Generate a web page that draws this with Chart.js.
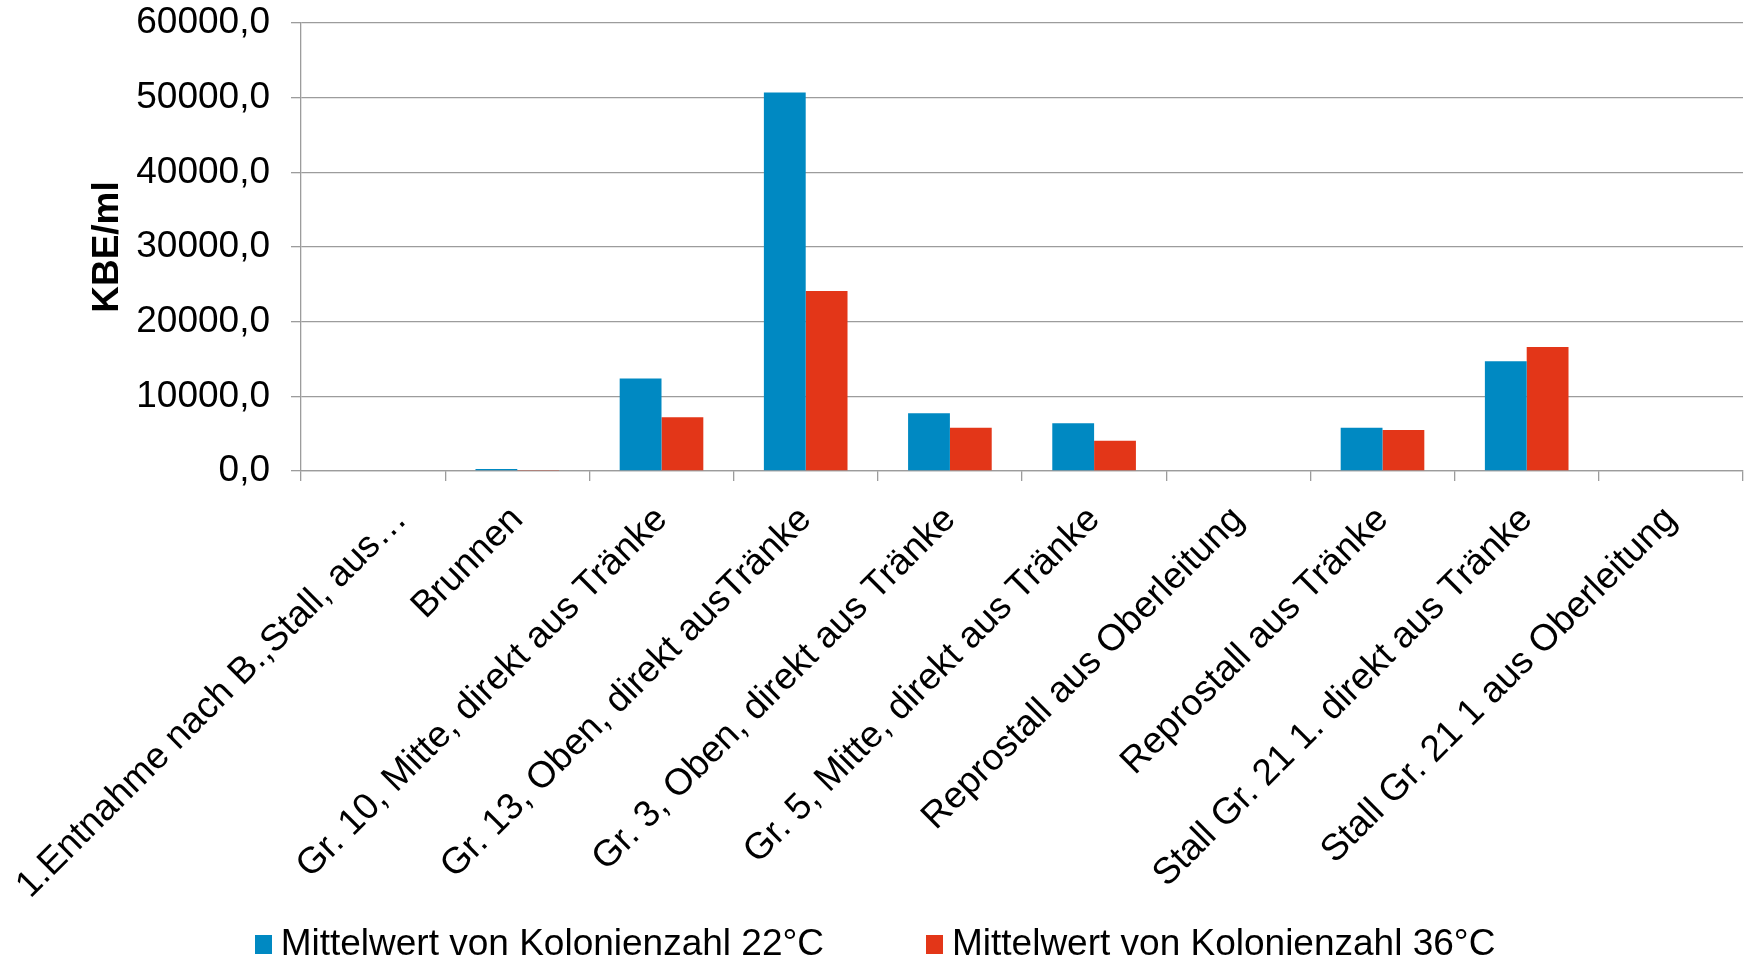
<!DOCTYPE html>
<html>
<head>
<meta charset="utf-8">
<script src="https://cdn.jsdelivr.net/npm/chart.js@4/dist/chart.umd.min.js"></script>
<style>
  body { margin: 0; background: #fff; }
  #wrap { position: relative; width: 1750px; height: 963px; }
  #legend {
    position: absolute; left: 0; top: 924px; width: 1750px; height: 37px;
    display: flex; justify-content: center; align-items: center;
    font-family: "Liberation Sans", Arial, sans-serif; font-size: 37px; line-height: 37px; color: #000;
  }
  .item { display: flex; align-items: center; }
  .box { width: 17px; height: 19px; margin-right: 9px; margin-top: 3px; }
</style>
</head>
<body>
<div id="wrap">
  <canvas id="chart" width="1750" height="963"></canvas>
  <div id="legend"></div>
</div>
<script>
// categories on the x axis
const categories = [
  "1.Entnahme nach B.,Stall, aus…",
  "Brunnen",
  "Gr. 10, Mitte, direkt aus Tränke",
  "Gr. 13, Oben, direkt ausTränke",
  "Gr. 3, Oben, direkt aus Tränke",
  "Gr. 5, Mitte, direkt aus Tränke",
  "Reprostall aus Oberleitung",
  "Reprostall aus Tränke",
  "Stall Gr. 21 1. direkt aus Tränke",
  "Stall Gr. 21 1 aus Oberleitung"
];

// Mittelwert 22°C
const kolonien22 = [0, 280, 12400, 50700, 7750, 6400, 0, 5800, 14700, 0];
// Mittelwert 36°C
const kolonien36 = [0, 120, 7200, 24100, 5800, 4050, 0, 5500, 16600, 0];

// y tick labels
const yTickLabels = ["0,0", "10000,0", "20000,0", "30000,0", "40000,0", "50000,0", "60000,0"];

const seriesNames = ["Mittelwert von Kolonienzahl 22°C", "Mittelwert von Kolonienzahl 36°C"];
const barColors = ["#0089C2", "#E33618"];

const gridGrey = "#9c9c9c";
const font = { family: "'Liberation Sans', Arial, sans-serif", size: 37 };

// the first (long) label is nudged right so it stays inside the picture
const shiftFirstLabel = {
  id: "shiftFirstLabel",
  beforeDraw(chart) {
    const items = chart.scales.x.getLabelItems();
    if (items.length && !items._shifted) {
      items[0].options.translation[0] += 28;
      items._shifted = true;
    }
  },
};

const chart = new Chart("chart", {
  type: "bar",
  data: {
    labels: categories,
    datasets: [
      {
        label: seriesNames[0],
        data: kolonien22,
        backgroundColor: barColors[0],
        categoryPercentage: 0.58,
        barPercentage: 1.0,
      },
      {
        label: seriesNames[1],
        data: kolonien36,
        backgroundColor: barColors[1],
        categoryPercentage: 0.58,
        barPercentage: 1.0,
      },
    ],
  },
  options: {
    responsive: false,
    animation: false,
    layout: { padding: { top: 0, right: 7, left: 0, bottom: 0 } },
    plugins: {
      legend: { display: false },
      tooltip: { enabled: false },
    },
    scales: {
      x: {
        offset: true,
        grid: {
          offset: true,
          drawOnChartArea: false,
          drawTicks: true,
          tickLength: 10,
          color: gridGrey,
          lineWidth: 1.3,
        },
        border: { color: gridGrey, width: 1.3 },
        ticks: {
          color: "#000",
          font: font,
          minRotation: 45,
          maxRotation: 45,
          autoSkip: false,
          padding: 17,
        },
        afterFit: (scale) => {
          scale.height = 492;
          scale.paddingLeft = 0;
          scale.paddingRight = 0;
        },
      },
      y: {
        min: 0,
        max: 60000,
        ticks: {
          stepSize: 10000,
          color: "#000",
          font: font,
          padding: 21,
          callback: (value, index) => yTickLabels[index],
        },
        grid: {
          color: gridGrey,
          lineWidth: 1.3,
          tickLength: 10,
        },
        border: { color: gridGrey, width: 1.3 },
        title: {
          display: true,
          text: "KBE/ml",
          color: "#000",
          font: { family: font.family, size: 37, weight: "bold" },
          padding: { top: 86, bottom: 0 },
        },
        afterFit: (scale) => {
          scale.width = 301;
          scale.paddingTop = 23;
          scale.paddingBottom = 0;
        },
      },
    },
  },
  plugins: [shiftFirstLabel],
});

// legend below the axis labels
const legendEl = document.getElementById("legend");
seriesNames.forEach((name, i) => {
  const item = document.createElement("div");
  item.className = "item";
  if (i > 0) item.style.marginLeft = "102px";
  item.innerHTML = `<span class="box" style="background:${barColors[i]}"></span><span>${name}</span>`;
  legendEl.appendChild(item);
});
</script>
</body>
</html>
